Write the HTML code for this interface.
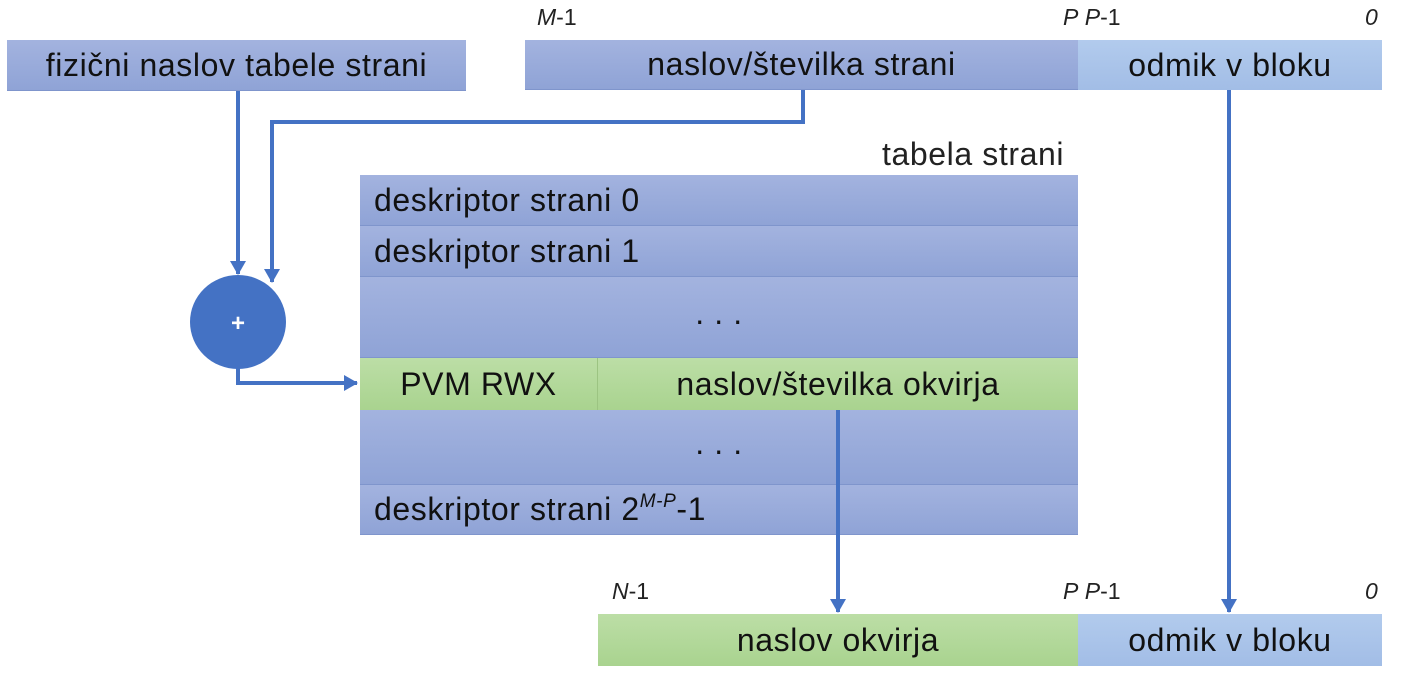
<!DOCTYPE html>
<html><head><meta charset="utf-8"><style>
body{margin:0;width:1403px;height:677px;background:#fff;position:relative;overflow:hidden;font-family:"Liberation Sans",sans-serif;}
.b{position:absolute;box-sizing:border-box;display:flex;align-items:center;justify-content:center;font-size:32px;letter-spacing:0.6px;color:#111;white-space:nowrap;}
.blue{background:linear-gradient(#a3b3df,#8fa3d6);border-bottom:1px solid #7f95cc;}
.lb{background:linear-gradient(#b2cbed,#a2bde6);}
.gr{background:linear-gradient(#bcdea6,#a9d38f);}
.l{justify-content:flex-start;padding-left:14px;}
.t{position:absolute;font-size:23px;color:#222;white-space:nowrap;}
i{font-style:italic;}
</style></head><body>
<div class="b blue" style="left:7px;top:40px;width:459px;height:51px">fizični naslov tabele strani</div>
<div class="b blue" style="left:525px;top:40px;width:553px;height:50px">naslov/številka strani</div>
<div class="b lb" style="left:1078px;top:40px;width:304px;height:50px">odmik v bloku</div>
<div class="t" style="left:537px;top:4px"><i>M</i>-1</div>
<div class="t" style="left:1063px;top:4px"><i>P</i> <i>P</i>-1</div>
<div class="t" style="left:1365px;top:4px"><i>0</i></div>
<div class="t" style="left:882px;top:136px;font-size:32px;letter-spacing:0.6px">tabela strani</div>
<div class="b blue l" style="left:360px;top:175px;width:718px;height:51px">deskriptor strani 0</div>
<div class="b blue l" style="left:360px;top:226px;width:718px;height:51px">deskriptor strani 1</div>
<div class="b blue" style="left:360px;top:277px;width:718px;height:81px;padding-bottom:8px">. . .</div>
<div class="b gr" style="left:360px;top:358px;width:238px;height:52px;border-right:1px solid #9cc482">PVM RWX</div>
<div class="b gr" style="left:598px;top:358px;width:480px;height:52px">naslov/številka okvirja</div>
<div class="b blue" style="left:360px;top:410px;width:718px;height:75px;padding-bottom:8px">. . .</div>
<div class="b blue l" style="left:360px;top:485px;width:718px;height:50px">deskriptor strani 2<sup style="font-size:19px;font-style:italic;align-self:flex-start;margin-top:6px">M-P</sup>-1</div>
<div class="t" style="left:612px;top:578px"><i>N</i>-1</div>
<div class="t" style="left:1063px;top:578px"><i>P</i> <i>P</i>-1</div>
<div class="t" style="left:1365px;top:578px"><i>0</i></div>
<div class="b gr" style="left:598px;top:614px;width:480px;height:52px">naslov okvirja</div>
<div class="b lb" style="left:1078px;top:614px;width:304px;height:52px">odmik v bloku</div>
<svg width="1403" height="677" style="position:absolute;left:0;top:0">
<defs><marker id="h" markerWidth="14" markerHeight="16" refX="13" refY="8" orient="auto" markerUnits="userSpaceOnUse"><path d="M0,0 L14,8 L0,16z" fill="#4472c4"/></marker></defs>
<g stroke="#4472c4" stroke-width="4" fill="none">
<path d="M238,91 V274" marker-end="url(#h)"/>
<path d="M803,90 V122 H272 V282" marker-end="url(#h)"/>
<path d="M238,368 V383 H357" marker-end="url(#h)"/>
<path d="M838,410 V612" marker-end="url(#h)"/>
<path d="M1229,90 V612" marker-end="url(#h)"/>
</g>
<ellipse cx="238" cy="322" rx="48" ry="47" fill="#4472c4"/>
<text x="238" y="331" fill="#fff" font-size="24" font-family="Liberation Sans" text-anchor="middle" font-weight="bold">+</text>
</svg>
</body></html>
